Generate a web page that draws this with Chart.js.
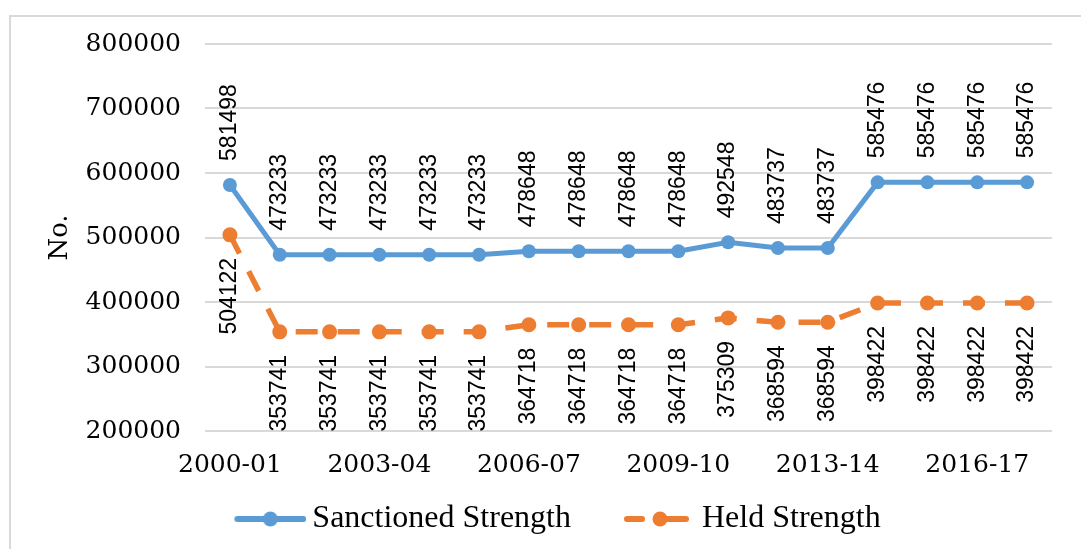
<!DOCTYPE html>
<html>
<head>
<meta charset="utf-8">
<script src="https://cdn.jsdelivr.net/npm/chart.js@4/dist/chart.umd.min.js"></script>
<style>
  html, body { margin: 0; padding: 0; background: #fff; overflow: hidden; }
  #frame { position: absolute; left: 9px; top: 15px; width: 1200px; height: 700px;
           border-top: 2px solid #d9d9d9; border-left: 2px solid #d9d9d9; }
  #chart { position: absolute; left: 0; top: 0; }
</style>
</head>
<body>
<div id="frame"></div>
<canvas id="chart" width="1081" height="549"></canvas>
<script>
// data
const years = ['2000-01', '2001-02', '2002-03', '2003-04', '2004-05', '2005-06', '2006-07', '2007-08',
  '2008-09', '2009-10', '2010-11', '2011-12', '2013-14', '2014-15', '2015-16', '2016-17', '2017-18']
const shownYears = ['2000-01', '2003-04', '2006-07', '2009-10', '2013-14', '2016-17']
const sanctioned = [581498, 473233, 473233, 473233, 473233, 473233, 478648, 478648, 478648, 478648,
  492548, 483737, 483737, 585476, 585476, 585476, 585476]
const held = [504122, 353741, 353741, 353741, 353741, 353741, 364718, 364718, 364718, 364718,
  375309, 368594, 368594, 398422, 398422, 398422, 398422]
const yMin = 200000
const yMax = 800000
const yStep = 100000

const blue = '#5b9bd5'
const orange = '#ed7d31'

// line + dot pictures for the legend; left part kept empty so the
// gap between the two entries comes out as wide as in Excel
function legendMark (color, dashed) {
  const c = document.createElement('canvas')
  c.width = 109
  c.height = 20
  const g = c.getContext('2d')
  g.strokeStyle = color
  g.fillStyle = color
  g.lineWidth = 6
  g.lineCap = 'round'
  g.beginPath()
  if (dashed) {
    g.moveTo(40, 10); g.lineTo(55, 10)
    g.moveTo(73, 10); g.lineTo(99, 10)
  } else {
    g.moveTo(40, 10); g.lineTo(106, 10)
  }
  g.stroke()
  g.beginPath()
  g.arc(73, 10, 7.5, 0, Math.PI * 2)
  g.fill()
  return c
}
const marks = [legendMark(blue, false), legendMark(orange, true)]

// vertical value labels, above the first line and below the second
const rotatedLabels = {
  id: 'rotatedLabels',
  afterDatasetsDraw (chart) {
    const ctx = chart.ctx
    ctx.save()
    ctx.font = '23px "Liberation Sans", Arial, sans-serif'
    ctx.fillStyle = '#000'
    ctx.textBaseline = 'middle'
    chart.data.datasets.forEach((ds, i) => {
      const above = i === 0
      chart.getDatasetMeta(i).data.forEach((pt, j) => {
        ctx.save()
        ctx.translate(pt.x, pt.y + (above ? -24 : 23))
        ctx.rotate(-Math.PI / 2)
        ctx.textAlign = above ? 'left' : 'right'
        ctx.fillText(String(ds.data[j]), 0, 0)
        ctx.restore()
      })
    })
    ctx.restore()
  }
}

const serif = 'DejaVu Serif'
const padLeft = 36

new Chart(document.getElementById('chart'), {
  type: 'line',
  data: {
    labels: years,
    datasets: [
      {
        label: 'Sanctioned Strength',
        data: sanctioned,
        borderColor: blue,
        backgroundColor: blue,
        borderWidth: 5,
        pointRadius: 7,
        pointBorderWidth: 0,
        pointBackgroundColor: blue,
        tension: 0
      },
      {
        label: 'Held Strength',
        data: held,
        borderColor: orange,
        backgroundColor: orange,
        borderWidth: 5.5,
        borderDash: [22, 20],
        borderDashOffset: 1,
        pointRadius: 7.5,
        pointBorderWidth: 0,
        pointBackgroundColor: orange,
        tension: 0
      }
    ]
  },
  options: {
    responsive: false,
    animation: false,
    devicePixelRatio: 1,
    layout: { padding: { top: 44, right: 29, bottom: 4, left: padLeft } },
    plugins: {
      tooltip: { enabled: false },
      legend: {
        position: 'bottom',
        labels: {
          usePointStyle: true,
          pointStyleWidth: 89,
          padding: 26,
          color: '#000',
          font: { family: 'Liberation Serif', size: 32 },
          generateLabels (chart) {
            const items = Chart.defaults.plugins.legend.labels.generateLabels(chart)
            items.forEach(it => { it.pointStyle = marks[it.datasetIndex] })
            return items
          }
        }
      }
    },
    scales: {
      x: {
        offset: true,
        grid: { display: false, drawTicks: false },
        border: { display: false },
        ticks: {
          autoSkip: false,
          maxRotation: 0,
          padding: 19,
          color: '#000',
          font: { family: serif, size: 25 },
          callback (v) {
            const y = this.getLabelForValue(v)
            return shownYears.includes(y) ? y : ''
          }
        },
        afterFit (s) { s.height = 46 }
      },
      y: {
        min: yMin,
        max: yMax,
        grid: { color: '#d9d9d9', lineWidth: 2, drawTicks: false },
        border: { display: false },
        ticks: {
          stepSize: yStep,
          padding: 24,
          color: '#000',
          font: { family: serif, size: 25 },
          callback: v => String(v)
        },
        title: {
          display: true,
          text: 'No.',
          color: '#000',
          font: { family: serif, size: 26 },
          padding: { top: 60 - padLeft - 15.6, bottom: 0 }
        },
        afterFit (s) { s.width = 205 - padLeft }
      }
    }
  },
  plugins: [rotatedLabels]
})
</script>
</body>
</html>
